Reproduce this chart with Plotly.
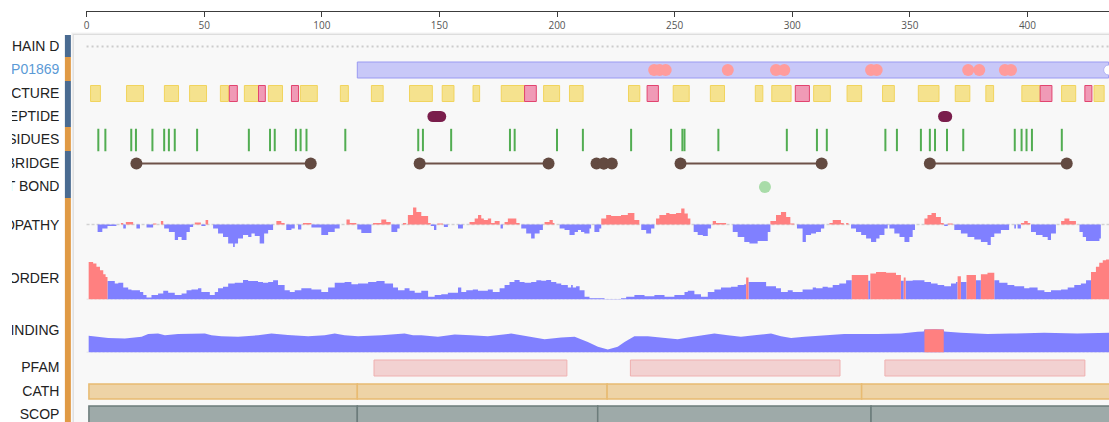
import plotly.graph_objects as go

W, H = 1109, 422

# ---------------- data ----------------
SEQ_LENGTH = 440
AXIS_TICKS = [0, 50, 100, 150, 200, 250, 300, 350, 400]

TRACK_LABELS = ["CHAIN D", "P01869", "SECONDARY STRUCTURE", "SIGNAL PEPTIDE",
                "BINDING RESIDUES", "DISULFIDE BRIDGE", "COVALENT BOND",
                "HYDROPATHY", "DISORDER", "DISORDER BINDING", "PFAM", "CATH", "SCOP"]

UNIPROT_START, UNIPROT_END = 115.1, 434.5
UNIPROT_VARIANTS = [241.3, 243.6, 246.2, 272.6, 293.1, 296.6, 333.5, 335.9,
                    374.8, 379.5, 390.4, 393.0]

SS_STRAND_START = [1.7, 17.0, 33.1, 43.8, 56.9, 67.1, 77.3, 90.9, 107.9, 121.1,
                   137.3, 151.2, 164.3, 176.3, 194.3, 205.3, 230.4, 249.4, 265.2,
                   284.3, 291.3, 309.1, 323.3, 338.4, 353.6, 369.3, 382.3, 397.6,
                   414.5, 428.3]
SS_STRAND_END = [5.9, 24.2, 39.1, 51.0, 60.3, 73.1, 83.3, 98.1, 111.3, 126.1,
                 147.0, 156.2, 167.1, 186.2, 201.1, 211.1, 235.2, 256.2, 271.2,
                 287.5, 299.5, 316.2, 329.5, 343.4, 362.4, 375.5, 385.6, 405.4,
                 420.5, 432.6]
SS_HELIX_START = [60.7, 73.1, 87.1, 186.2, 238.3, 301.3, 405.4, 424.4]
SS_HELIX_END = [64.1, 76.0, 90.1, 191.2, 243.1, 307.3, 410.4, 427.4]

PEPTIDE_START = [144.9, 362.0]
PEPTIDE_END = [152.9, 368.0]

BINDING_RESIDUES = [5, 8, 19, 21, 28, 33, 35, 37.5, 47, 69, 78, 80, 89, 91, 93.5,
                    110, 141, 143, 155, 180, 182, 200, 211, 231.5, 248.5, 253.3,
                    254.2, 268.6, 297.7, 310.5, 314.7, 339.6, 344.5, 354.7, 358.5,
                    360.7, 365.8, 372.7, 394.6, 397.5, 399.6, 401.9, 414.6]

BRIDGE_FROM = [21.2, 141.6, 216.8, 219.9, 252.5, 358.5]
BRIDGE_TO = [95.3, 196.4, 219.9, 223.3, 312.5, 416.7]

COVALENT_BONDS = [288.4]

# hydropathy: step segments (segment start residue, score)
HYDRO_START = [
    4.7, 6.7, 8.9, 12.7, 14.6, 15.6, 16.7, 19.8, 21.2, 22.7, 25.5, 28.3, 29.7, 31.6,
    32.6, 33.0, 35.0, 37.5, 38.9, 40.4, 42.5, 43.9, 45.3, 46.0, 48.6, 48.8, 50.6,
    51.7, 53.8, 55.9, 58.0, 60.2, 62.3, 63.0, 64.4, 66.5, 68.7, 70.1, 71.5, 73.6,
    75.5, 77.2, 79.3, 80.7, 82.8, 84.2, 84.9, 87.1, 88.5, 89.9, 91.3, 92.0, 95.6,
    99.8, 102.7, 105.5, 107.6, 110.5, 111.9, 114.7, 115.1, 116.8, 121.1, 121.8,
    125.3, 127.4, 129.3, 129.6, 132.1, 133.1, 134.5, 135.9, 136.6, 138.8, 140.2,
    142.3, 145.2, 146.3, 147.7, 148.7, 149.1, 151.5, 151.9, 153.6, 157.9, 160.0,
    162.8, 165.0, 166.4, 167.8, 168.9, 170.6, 172.0, 173.5, 175.6, 176.0, 177.0,
    177.7, 179.1, 182.7, 184.1, 184.8, 186.9, 189.0, 190.5, 192.6, 194.0, 194.7,
    196.8, 198.2, 198.9, 201.1, 203.2, 205.3, 207.5, 208.9, 210.2, 211.6, 213.8,
    214.5, 215.9, 218.0, 218.8, 220.9, 223.0, 227.2, 230.1, 232.9, 235.0, 235.8,
    237.9, 240.0, 241.4, 242.1, 243.5, 246.4, 247.8, 250.6, 252.8, 254.2, 255.6,
    256.7, 258.1, 259.8, 262.0, 264.1, 265.5, 266.2, 267.6, 271.9, 274.7, 276.8,
    279.6, 281.8, 285.3, 289.6, 290.7, 293.1, 295.2, 297.4, 299.2, 300.9, 302.0,
    304.4, 305.8, 308.0, 310.1, 312.2, 313.6, 315.8, 317.2, 320.7, 321.9, 322.9,
    323.9, 325.0, 327.1, 329.3, 331.4, 333.5, 335.7, 337.1, 339.2, 340.6, 341.3,
    343.4, 345.6, 347.7, 349.8, 351.2, 352.2, 356.2, 357.5, 359.2, 361.1, 363.2,
    364.4, 364.6, 366.1, 368.2, 368.9, 371.7, 374.5, 377.4, 380.2, 383.0, 384.4,
    385.9, 388.7, 392.2, 394.4, 395.1, 395.8, 397.2, 398.6, 400.1, 401.2, 401.5,
    403.6, 406.4, 408.6, 410.0, 412.1, 414.3, 415.7, 417.8, 420.6, 422.1, 423.5,
    424.9, 430.6]
HYDRO_SCORE = [
    -1.5, -0.8, -0.3, 0.0, 0.3, -0.8, 0.5, 0.0, -0.8, 0.0, -0.6, 0.2, 0.0, 0.7,
    0.0, -0.8, -1.5, -3.1, -2.5, -3.1, -1.5, -0.5, 0.0, 0.4, 0.0, -0.3, 0.9,
    0.0, -0.8, -1.8, -2.5, -3.8, -4.5, -3.8, -2.8, -2.1, -2.5, -1.8, -2.3, -3.8,
    -1.8, -1.1, 0.0, 0.7, 0.3, 0.0, -1.1, -0.8, 0.0, -1.0, 0.0, 0.3, -0.6,
    -2.1, -1.5, -0.8, 0.0, 1.0, 0.3, 0.0, -1.0, -1.7, 0.0, 0.3,
    1.0, 0.5, 0.0, -1.5, -0.8, 0.0, 0.3, 0.0, 1.9, 3.4, 2.5,
    1.7, 0.3, -0.3, -1.1, 0.0, 0.2, 0.0, -0.5, 0.0, -0.8, 0.0,
    0.5, 1.2, 1.9, 1.2, 0.9, 1.2, 0.3, 0.7, 0.0, -0.8, 0.0,
    0.5, 1.2, 0.3, 0.0, -0.8, -1.8, -2.8, -1.8, -1.1, 0.0, 0.5,
    0.9, 0.3, 0.0, -0.8, -1.1, -2.1, -1.5, -1.1, -1.5, -1.8, -0.8,
    0.0, -1.5, -0.8, 1.2, 1.9, 1.7, 1.9, 2.3, 0.9, 0.0, -1.1,
    -1.8, -0.8, 0.0, 1.2, 1.9, 2.3, 2.1, 2.3, 3.2, 2.2, 1.2,
    0.0, -1.5, -2.1, -2.3, -0.8, 0.0, 0.7, 0.3, 0.0, -1.5, -2.5,
    -3.5, -3.8, -3.3, -1.5, 0.7, 1.9, 2.5, 1.5, 0.2, 0.0, -0.8,
    -3.5, -2.1, -1.8, -1.5, -0.8, 0.0, 0.3, 0.9, 0.3, 0.0, 0.3,
    0.0, -0.8, -1.5, -2.1, -2.8, -3.5, -2.8, -2.1, -0.8, 0.0, -0.8,
    -1.8, -2.5, -3.5, -2.5, -1.1, 0.0, 1.2, 1.9, 2.3, 1.5, 0.3,
    0.0, -0.3, 0.2, 0.0, -1.1, -1.8, -2.5, -3.0, -3.5, -4.1, -2.5,
    -1.8, -1.1, 0.0, -0.8, 0.0, -0.8, 0.3, 0.7, 0.3, 0.0, -1.5,
    -2.1, -2.5, -3.1, -1.8, 0.0, 0.7, 1.2, 0.7, 0.0, -1.5, -2.5,
    -3.3, -2.8]
HYDRO_END = 431.2

# disorder: step segments (segment start residue, score 0-1)
DISORDER_START = [
    0.9, 2.8, 4.2, 5.7, 7.1, 8.1, 8.9, 12.0, 13.5, 15.6, 17.7, 19.1, 22.7, 24.1,
    25.5, 27.6, 30.4, 32.6, 34.7, 37.5, 40.4, 42.5, 44.6, 47.4, 48.8, 52.4, 54.5,
    55.9, 58.0, 60.2, 63.0, 66.5, 68.7, 72.9, 75.0, 77.2, 79.3, 81.4, 84.2, 86.4,
    88.5, 91.3, 95.6, 99.8, 102.7, 105.5, 109.7, 112.6, 115.4, 119.7, 123.2, 126.7,
    130.3, 132.4, 135.2, 137.3, 139.5, 142.3, 145.2, 148.0, 150.8, 153.6, 157.9,
    159.3, 161.4, 164.2, 166.4, 170.6, 172.7, 175.6, 177.7, 179.8, 181.9, 184.1,
    186.2, 189.0, 191.2, 193.3, 195.4, 197.5, 199.7, 201.8, 204.6, 206.0, 206.7,
    208.1, 209.6, 211.7, 213.8, 220.2, 227.2, 229.4, 232.9, 237.2, 241.4, 245.7,
    249.9, 254.2, 255.6, 258.4, 261.2, 264.1, 266.9, 269.7, 274.0, 276.8, 279.6,
    280.4, 281.4, 286.7, 288.9, 293.1, 295.2, 298.1, 300.2, 304.4, 308.7, 310.1,
    312.9, 315.1, 317.2, 320.0, 322.9, 325.3, 332.3, 333.2, 335.6, 339.9, 344.1,
    346.2, 347.4, 348.2, 351.2, 353.3, 356.2, 359.0, 361.8, 364.6, 367.5, 369.6,
    370.3, 371.7, 374.1, 378.1, 380.2, 383.0, 385.9, 388.0, 391.5, 394.4, 398.6,
    400.8, 404.3, 407.2, 410.0, 414.3, 417.1, 419.9, 422.7, 424.9, 427.0, 429.1,
    430.5, 432.0, 433.4]
DISORDER_SCORE = [
    0.94, 0.90, 0.82, 0.73, 0.63, 0.56, 0.46, 0.40, 0.42, 0.30, 0.25, 0.23, 0.19, 0.11,
    0.05, 0.11, 0.15, 0.22, 0.17, 0.11, 0.15, 0.23, 0.25, 0.28, 0.19, 0.11, 0.19,
    0.28, 0.32, 0.40, 0.42, 0.49, 0.46, 0.44, 0.42, 0.44, 0.48, 0.36, 0.23, 0.19,
    0.23, 0.28, 0.25, 0.19, 0.30, 0.42, 0.44, 0.38, 0.40, 0.44, 0.46, 0.40,
    0.30, 0.23, 0.28, 0.22, 0.17, 0.22, 0.07, 0.11, 0.13, 0.17, 0.30,
    0.19, 0.23, 0.25, 0.22, 0.25, 0.19, 0.28, 0.36, 0.44, 0.49, 0.44,
    0.42, 0.44, 0.48, 0.47, 0.49, 0.44, 0.40, 0.36, 0.30, 0.36, 0.30,
    0.33, 0.23, 0.07, 0.03, 0.01, 0.03, 0.07, 0.11, 0.08, 0.11, 0.07,
    0.11, 0.19, 0.22, 0.13, 0.07, 0.19, 0.25, 0.30, 0.32, 0.36, 0.38,
    0.55, 0.44, 0.44, 0.33, 0.28, 0.19, 0.23, 0.19, 0.25, 0.30, 0.28,
    0.32, 0.30, 0.36, 0.40, 0.48, 0.61, 0.47, 0.65, 0.69, 0.67, 0.61,
    0.47, 0.55, 0.47, 0.48, 0.48, 0.44, 0.40, 0.36, 0.33, 0.40, 0.44,
    0.58, 0.44, 0.61, 0.48, 0.63, 0.67, 0.48, 0.42, 0.36, 0.33, 0.28,
    0.30, 0.23, 0.19, 0.23, 0.25, 0.30, 0.36, 0.40, 0.48, 0.69, 0.82,
    0.92, 0.98, 1.00]
DISORDER_END = 436.0

# disorder-binding propensity sampled along the chain
BIND_POS = [0.9, 9.2, 16.3, 23.4, 26.2, 30.4, 33.3, 38.9, 50.3, 53.1, 57.3, 64.4,
            72.9, 78.6, 85.6, 94.2, 101.2, 105.5, 109.7, 115.4, 125.3, 131.0, 135.2,
            138.8, 142.3, 149.4, 156.5, 163.5, 170.6, 180.5, 187.6, 194.7, 201.8,
            207.5, 213.1, 217.4, 221.6, 225.8, 228.7, 232.9, 238.6, 244.3, 251.3,
            255.6, 261.2, 266.9, 272.6, 278.2, 283.9, 288.9, 291.0, 295.2, 299.5,
            305.2, 312.2, 322.1, 336.3, 346.2, 353.3, 355.9, 356.2, 360.4, 364.4,
            364.6, 371.7, 383.0, 392.9, 407.1, 421.2, 436.0]
BIND_SCORE = [0.38, 0.33, 0.32, 0.36, 0.42, 0.43, 0.39, 0.42, 0.43, 0.39, 0.37, 0.36,
              0.39, 0.43, 0.40, 0.37, 0.39, 0.43, 0.39, 0.37, 0.39, 0.42, 0.43,
              0.39, 0.39, 0.36, 0.41, 0.39, 0.37, 0.43, 0.36, 0.30, 0.34,
              0.36, 0.24, 0.13, 0.07, 0.13, 0.24, 0.37, 0.37, 0.34, 0.30,
              0.34, 0.39, 0.43, 0.39, 0.36, 0.39, 0.42, 0.43, 0.37, 0.33,
              0.36, 0.39, 0.42, 0.42, 0.43, 0.47, 0.48, 0.52, 0.53, 0.52,
              0.48, 0.45, 0.42, 0.43, 0.45, 0.43, 0.45]

PFAM_START = [122.2, 231.2, 339.4]
PFAM_END = [204.2, 320.3, 424.4]
CATH_START = [1.0, 115.1, 221.3, 329.5]
CATH_END = [115.1, 221.3, 329.5, SEQ_LENGTH]
SCOP_START = [1.0, 115.1, 217.3, 333.5]
SCOP_END = [115.1, 217.3, 333.5, SEQ_LENGTH]

# ---------------- layout geometry (pixel rows) ----------------
LABEL_ROW = [47, 70, 94, 117, 140, 164, 187, 226, 279, 331, 368, 392, 415]
GROUP_BANDS = [(35, 57, "#4a6b91"), (57, 81, "#e09a45"), (81, 127, "#4a6b91"),
               (127, 151, "#e09a45"), (151, 198, "#4a6b91"), (198, 430, "#e09a45")]
ROW_CHAIN, ROW_UNP, ROW_SS, ROW_PEP, ROW_RES, ROW_SSB, ROW_BOND = 46.5, 70, 93.5, 116.5, 140, 163.5, 187
ROW_PFAM, ROW_CATH, ROW_SCOP = (360, 376), (384, 399), (406, 440)

X_DOMAIN_LEFT = 84
X_RANGE = [-0.30, 434.66]
LABEL_BOX = (10, 57.5)   # label column, text clipped at its left edge


def paper_y(row):
    return 1 - row / H


def runs(mask):
    out, start = [], None
    for i, m in enumerate(mask):
        if m and start is None:
            start = i
        if not m and start is not None:
            out.append((start, i - 1))
            start = None
    if start is not None:
        out.append((start, len(mask) - 1))
    return out


RED, BLUE = "#ff8080", "#8080ff"
GREEN_TICK = "#52ad52"

fig = go.Figure()
shapes = []

# panel background with soft top/left shadow
shapes.append(dict(type="rect", xref="paper", yref="y", x0=72 / W, x1=1.01, y0=35, y1=H + 5,
                   fillcolor="#f8f8f8", line=dict(width=0), layer="below"))
for k, a in enumerate([0.025, 0.045, 0.07]):
    shapes.append(dict(type="rect", xref="paper", yref="y", x0=(69 + k) / W, x1=1.01,
                       y0=32 + k, y1=35, fillcolor=f"rgba(0,0,0,{a})", line=dict(width=0), layer="below"))
    shapes.append(dict(type="rect", xref="paper", yref="y", x0=(69 + k) / W, x1=72 / W,
                       y0=35, y1=H + 5, fillcolor=f"rgba(0,0,0,{a})", line=dict(width=0), layer="below"))

# left category colour strips
for y0, y1, c in GROUP_BANDS:
    shapes.append(dict(type="rect", xref="paper", yref="y", x0=63 / W, x1=69 / W, y0=y0, y1=y1,
                       fillcolor=c, line=dict(width=0), layer="above"))

# UniProt mapping bar
shapes.append(dict(type="rect", xref="x", yref="y", x0=UNIPROT_START, x1=UNIPROT_END,
                   y0=ROW_UNP - 8, y1=ROW_UNP + 8, fillcolor="#c8c8f8",
                   line=dict(color="#9a9af2", width=1), layer="below"))

# secondary structure
for s, e in zip(SS_STRAND_START, SS_STRAND_END):
    shapes.append(dict(type="rect", xref="x", yref="y", x0=s, x1=e, y0=ROW_SS - 8, y1=ROW_SS + 8,
                       fillcolor="#f5e28e", line=dict(color="#f1d45e", width=1), layer="below"))
for s, e in zip(SS_HELIX_START, SS_HELIX_END):
    shapes.append(dict(type="rect", xref="x", yref="y", x0=s, x1=e, y0=ROW_SS - 8, y1=ROW_SS + 8,
                       fillcolor="#f09ab6", line=dict(color="#e2446f", width=1), layer="below"))

# domain tracks
for s, e in zip(PFAM_START, PFAM_END):
    shapes.append(dict(type="rect", xref="x", yref="y", x0=s, x1=e, y0=ROW_PFAM[0], y1=ROW_PFAM[1],
                       fillcolor="#f2d1d1", line=dict(color="#efb0b0", width=1), layer="below"))
for s, e in zip(CATH_START, CATH_END):
    shapes.append(dict(type="rect", xref="x", yref="y", x0=s, x1=e, y0=ROW_CATH[0], y1=ROW_CATH[1],
                       fillcolor="#eed3a6", line=dict(color="#e8bb72", width=1.5), layer="below"))
for s, e in zip(SCOP_START, SCOP_END):
    shapes.append(dict(type="rect", xref="x", yref="y", x0=s, x1=e, y0=ROW_SCOP[0], y1=ROW_SCOP[1],
                       fillcolor="#9eaaa9", line=dict(color="#6c7c7b", width=1.5), layer="below"))

# chain coverage (dotted)
fig.add_trace(go.Scatter(x=[0, SEQ_LENGTH], y=[ROW_CHAIN, ROW_CHAIN], mode="lines",
                         line=dict(color="#cccccc", width=2, dash="2px,3px"), yaxis="y"))

# UniProt variant sites and end cap
fig.add_trace(go.Scatter(x=UNIPROT_VARIANTS, y=[ROW_UNP] * len(UNIPROT_VARIANTS), mode="markers",
                         marker=dict(size=12, color="#ff9c9c"), yaxis="y"))
fig.add_trace(go.Scatter(x=[UNIPROT_END], y=[ROW_UNP], mode="markers",
                         marker=dict(size=10, color="white", line=dict(color="#b4b4f4", width=1)), yaxis="y"))

# peptides as rounded pills
PILL = 11
pill_r = (PILL / 2) / 2.3566
for s, e in zip(PEPTIDE_START, PEPTIDE_END):
    fig.add_trace(go.Scatter(x=[s + pill_r, e - pill_r], y=[ROW_PEP, ROW_PEP], mode="lines+markers",
                             line=dict(color="#7a1e4c", width=PILL),
                             marker=dict(size=PILL, color="#7a1e4c"), yaxis="y"))

# binding residues as ticks
fig.add_trace(go.Scatter(x=BINDING_RESIDUES, y=[ROW_RES] * len(BINDING_RESIDUES), mode="markers",
                         marker=dict(symbol="line-ns-open", size=16, color=GREEN_TICK,
                                     line=dict(color=GREEN_TICK, width=2)), yaxis="y"))

# disulfide bridges
for a, b in zip(BRIDGE_FROM, BRIDGE_TO):
    fig.add_trace(go.Scatter(x=[a, b], y=[ROW_SSB, ROW_SSB], mode="lines+markers",
                             line=dict(color="#6e5249", width=2),
                             marker=dict(size=12, color="#634a41"), yaxis="y"))

# covalent bond
fig.add_trace(go.Scatter(x=COVALENT_BONDS, y=[ROW_BOND] * len(COVALENT_BONDS), mode="markers",
                         marker=dict(size=12, color="#a9dca9"), yaxis="y"))

# hydropathy (y2)
hx = HYDRO_START + [HYDRO_END]
hv = HYDRO_SCORE + [HYDRO_SCORE[-1]]
fig.add_trace(go.Scatter(x=[0, SEQ_LENGTH], y=[0, 0], mode="lines",
                         line=dict(color="#d2d2d2", width=1.5, dash="3px,2px"), yaxis="y2"))
fig.add_trace(go.Scatter(x=hx, y=[max(v, 0) for v in hv], mode="lines", line_shape="hv",
                         line=dict(width=0), fill="tozeroy", fillcolor=RED, yaxis="y2"))
fig.add_trace(go.Scatter(x=hx, y=[min(v, 0) for v in hv], mode="lines", line_shape="hv",
                         line=dict(width=0), fill="tozeroy", fillcolor=BLUE, yaxis="y2"))

# disorder (y3)
dx = DISORDER_START + [DISORDER_END]
dv = DISORDER_SCORE + [DISORDER_SCORE[-1]]
fig.add_trace(go.Scatter(x=[0, SEQ_LENGTH], y=[0, 0], mode="lines",
                         line=dict(color="#dddddd", width=1.5, dash="2px,2px"), yaxis="y3"))
fig.add_trace(go.Scatter(x=dx, y=[v if v <= 0.5 else 0 for v in dv], mode="lines", line_shape="hv",
                         line=dict(width=0), fill="tozeroy", fillcolor=BLUE, yaxis="y3"))
fig.add_trace(go.Scatter(x=dx, y=[v if v > 0.5 else 0 for v in dv], mode="lines", line_shape="hv",
                         line=dict(width=0), fill="tozeroy", fillcolor=RED, yaxis="y3"))

# disorder binding (y4)
fig.add_trace(go.Scatter(x=[0, SEQ_LENGTH], y=[0, 0], mode="lines",
                         line=dict(color="#dddddd", width=1.5, dash="2px,2px"), yaxis="y4"))
fig.add_trace(go.Scatter(x=BIND_POS, y=BIND_SCORE, mode="lines", line=dict(width=0),
                         fill="tozeroy", fillcolor=BLUE, yaxis="y4"))
for i0, i1 in runs([v > 0.5 for v in BIND_SCORE]):
    xs = [BIND_POS[i0]] + BIND_POS[i0:i1 + 1] + [BIND_POS[i1]]
    ys = [0] + BIND_SCORE[i0:i1 + 1] + [0]
    fig.add_trace(go.Scatter(x=xs, y=ys, mode="lines", line=dict(width=0),
                             fill="toself", fillcolor=RED, yaxis="y4"))

# track labels: right-aligned in a narrow column that clips long names
fig.add_trace(go.Scatter(
    x=[1.0] * len(TRACK_LABELS), y=LABEL_ROW, mode="text", text=TRACK_LABELS,
    textposition="middle left", cliponaxis=True,
    textfont=dict(family="Liberation Sans, Arial", size=14,
                  color=["#5b9ad6" if i == 1 else "#222222" for i in range(len(TRACK_LABELS))]),
    xaxis="x2", yaxis="y"))

hidden = dict(visible=False, showgrid=False, zeroline=False, fixedrange=True, anchor="x")
fig.update_layout(
    width=W, height=H,
    margin=dict(l=0, r=0, t=0, b=0),
    paper_bgcolor="white", plot_bgcolor="rgba(0,0,0,0)",
    showlegend=False,
    shapes=shapes,
    xaxis=dict(domain=[X_DOMAIN_LEFT / W, 1], range=X_RANGE, anchor="free",
               position=paper_y(10.7), side="bottom",
               showline=True, linecolor="#3c3c3c", linewidth=1,
               ticks="outside", ticklen=5, tickwidth=1, tickcolor="#3c3c3c",
               tickvals=AXIS_TICKS, ticktext=[str(t) for t in AXIS_TICKS],
               tickfont=dict(family="Open Sans", size=10, color="#555555"),
               showgrid=False, zeroline=False),
    xaxis2=dict(domain=[LABEL_BOX[0] / W, LABEL_BOX[1] / W], range=[0, 1],
                visible=False, showgrid=False, zeroline=False, fixedrange=True, anchor="y"),
    yaxis=dict(domain=[0, 1], range=[H, 0], **hidden),
    yaxis2=dict(domain=[paper_y(249.5), paper_y(199.5)], range=[-5, 5], **hidden),
    yaxis3=dict(domain=[paper_y(299.5), paper_y(254.5)], range=[0, 45 / 40], **hidden),
    yaxis4=dict(domain=[paper_y(352.5), paper_y(322.5)], range=[0, 30 / 44], **hidden),
)

fig.write_html("out.html")
